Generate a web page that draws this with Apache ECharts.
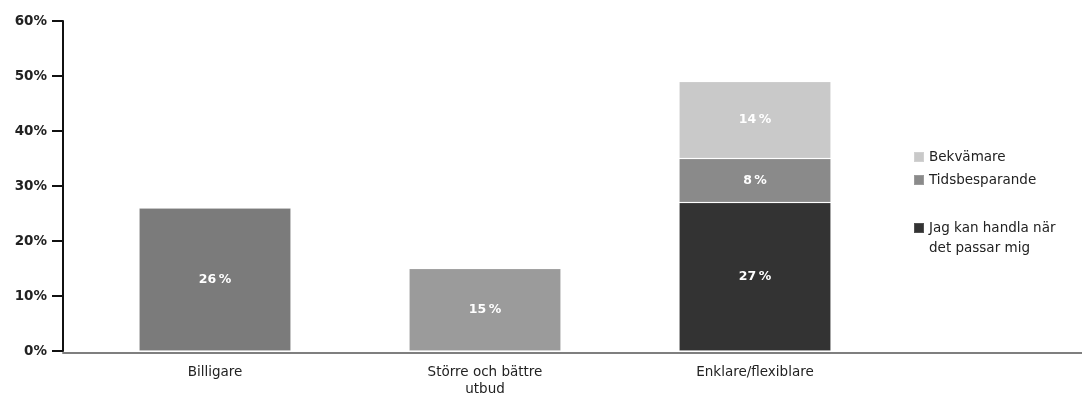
<!DOCTYPE html>
<html>
<head>
<meta charset="utf-8">
<script src="https://cdn.jsdelivr.net/npm/echarts@6/dist/echarts.min.js"></script>
<style>
html, body { margin: 0; padding: 0; background: #fff; }
#main { width: 1082px; height: 398px; }
</style>
</head>
<body>
<div id="main"></div>
<script>
// data
var categories = ['Billigare', 'Större och bättre\nutbud', 'Enklare/flexiblare'];
var billigare = [26, '-', '-'];
var storre = ['-', 15, '-'];
var jagKan = ['-', '-', 27];
var tids = ['-', '-', 8];
var bekvamare = ['-', '-', 14];
var legendNames = ['Bekvämare', 'Tidsbesparande', 'Jag kan handla när\ndet passar mig'];

var FONT = 'DejaVu Sans';
var dom = document.getElementById('main');
var myChart = echarts.init(dom, null, { renderer: 'canvas' });

var valueLabel = {
    show: true,
    position: 'inside',
    color: '#fff',
    fontFamily: FONT,
    fontWeight: 'bold',
    fontSize: 12.5,
    formatter: '{c}\u2009%'
};

function bar(name, data, color) {
    return {
        name: name,
        type: 'bar',
        stack: 'all',
        barWidth: 152,
        data: data,
        itemStyle: { color: color, borderColor: 'rgba(255,255,255,0.15)', borderWidth: 1 },
        label: valueLabel,
        xAxisIndex: 0,
        yAxisIndex: 0
    };
}

function legendAt(name, top, formatter) {
    return {
        data: [name],
        left: 913,
        top: top,
        padding: 0,
        itemWidth: 10,
        itemHeight: 10,
        icon: 'rect',
        selectedMode: false,
        formatter: formatter || '{name}',
        textStyle: {
            fontFamily: FONT,
            fontSize: 13.5,
            color: '#222',
            lineHeight: 20
        }
    };
}

var option = {
    animation: false,
    textStyle: { fontFamily: FONT },
    grid: [
        { left: 80, top: 21, bottom: 45, width: 810 },
        { left: 63, top: 21, bottom: 45, right: 0 }
    ],
    legend: [
        legendAt(legendNames[0], 147),
        legendAt(legendNames[1], 170),
        // blank first line keeps the icon level with the first text line
        legendAt(legendNames[2], 198, function (name) { return '\n' + name; })
    ],
    xAxis: [
        {
            type: 'category',
            gridIndex: 0,
            data: categories,
            axisLine: { show: false },
            axisTick: { show: false },
            axisLabel: {
                color: '#222',
                fontFamily: FONT,
                fontSize: 13.5,
                lineHeight: 17,
                margin: 13
            }
        },
        {
            type: 'category',
            gridIndex: 1,
            data: [''],
            z: 5,
            axisLine: { show: true, lineStyle: { color: 'rgba(0,0,0,0.5)', width: 2 } },
            axisTick: { show: false },
            axisLabel: { show: false }
        }
    ],
    yAxis: [
        {
            type: 'value',
            gridIndex: 0,
            min: 0,
            max: 60,
            interval: 10,
            offset: 17,
            z: 6,
            splitLine: { show: false },
            axisLine: { show: true, lineStyle: { color: '#111', width: 2 } },
            axisTick: { show: true, length: 11, lineStyle: { color: '#111', width: 2 } },
            axisLabel: {
                color: '#222',
                fontFamily: FONT,
                fontWeight: 'bold',
                fontSize: 13.5,
                margin: 16,
                formatter: '{value}%'
            }
        },
        {
            type: 'value',
            gridIndex: 1,
            show: false
        }
    ],
    series: [
        bar('Billigare', billigare, '#7b7b7b'),
        bar('Större och bättre utbud', storre, '#9b9b9b'),
        bar(legendNames[2], jagKan, '#333333'),
        bar(legendNames[1], tids, '#8a8a8a'),
        bar(legendNames[0], bekvamare, '#c9c9c9')
    ]
};

myChart.setOption(option);
window.addEventListener('resize', myChart.resize);
</script>
</body>
</html>
